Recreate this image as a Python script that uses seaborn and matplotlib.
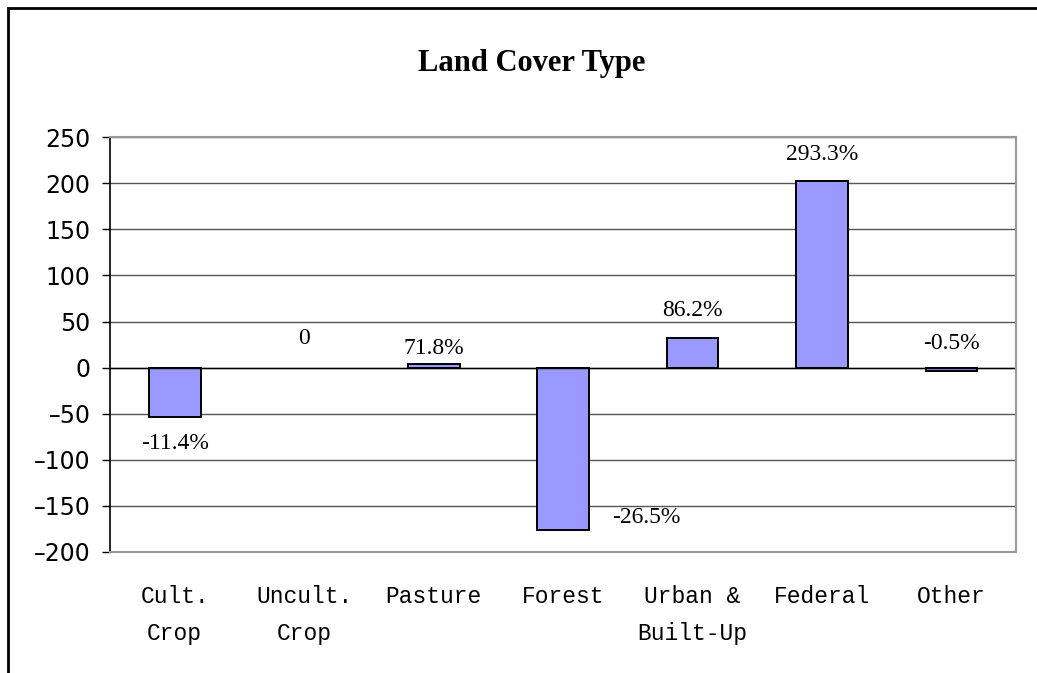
import matplotlib
matplotlib.use("Agg")
import matplotlib.pyplot as plt
import seaborn as sns
import pandas as pd
from matplotlib.patches import Rectangle

# values
categories = ["Cult.\nCrop", "Uncult.\nCrop", "Pasture", "Forest", "Urban &\nBuilt-Up", "Federal", "Other"]
changes = [-54, 0, 4, -176, 32, 203, -4]
pct_labels = ["-11.4%", "0", "71.8%", "-26.5%", "86.2%", "293.3%", "-0.5%"]
yticks = [-200, -150, -100, -50, 0, 50, 100, 150, 200, 250]

df = pd.DataFrame({"type": categories, "change": changes})

sns.set_theme(style="white")
plt.rcParams["font.family"] = ["DejaVu Sans"]
plt.rcParams["text.color"] = "black"
plt.rcParams["xtick.color"] = "black"
plt.rcParams["ytick.color"] = "black"

fig = plt.figure(figsize=(10.37, 6.73), dpi=100)
ax = fig.add_axes([0.106, 0.18, 0.874, 0.616])

sns.barplot(data=df, x="type", y="change", color="#9999FF", width=0.40,
            edgecolor="black", linewidth=1.4, saturation=1, ax=ax)
# a zero-height bar shows nothing in the reference
for p in ax.patches:
    if p.get_height() == 0:
        p.set_linewidth(0)

ax.set_ylim(-200, 250)
ax.set_yticks(yticks)
ax.set_yticklabels([str(t).replace("-", "\u2013") for t in yticks], fontsize=17)
ax.set_xlabel("")
ax.set_ylabel("")
ax.yaxis.grid(True, color="#555555", linewidth=1)
ax.set_axisbelow(True)
ax.axhline(0, color="black", linewidth=1, zorder=1)
ax.tick_params(axis="y", left=True, length=6, width=1, color="black", pad=8)
ax.tick_params(axis="x", bottom=False, pad=18)
for lbl in ax.get_xticklabels():
    lbl.set_fontfamily("Liberation Mono")
    lbl.set_fontsize(16.5)
    lbl.set_linespacing(1.75)
for side in ["top", "right", "bottom"]:
    ax.spines[side].set_color("#999999")
    ax.spines[side].set_linewidth(1.5)
ax.spines["left"].set_color("black")
ax.spines["left"].set_linewidth(1.2)

# label offsets (points) relative to bar end
offsets = [(0, -19), (0, 21), (0, 11), (60, 9), (0, 20), (0, 19), (0, 20)]
for i, (v, txt) in enumerate(zip(changes, pct_labels)):
    dx, dy = offsets[i]
    ax.annotate(txt, (i, v), xytext=(dx, dy), textcoords="offset points",
                ha="center", va="center", fontsize=17, family="Liberation Serif")

fig.text(0.513, 0.905, "Land Cover Type", ha="center", va="center",
         fontsize=22, fontweight="bold", family="Liberation Serif")

# outer chart border (cropped on right and bottom)
fig.patches.append(Rectangle((8 / 1037, -0.1), 1.2, 1.1 - 8 / 673,
                             transform=fig.transFigure, fill=False,
                             edgecolor="black", linewidth=2))

fig.savefig("out.png", dpi=100)
